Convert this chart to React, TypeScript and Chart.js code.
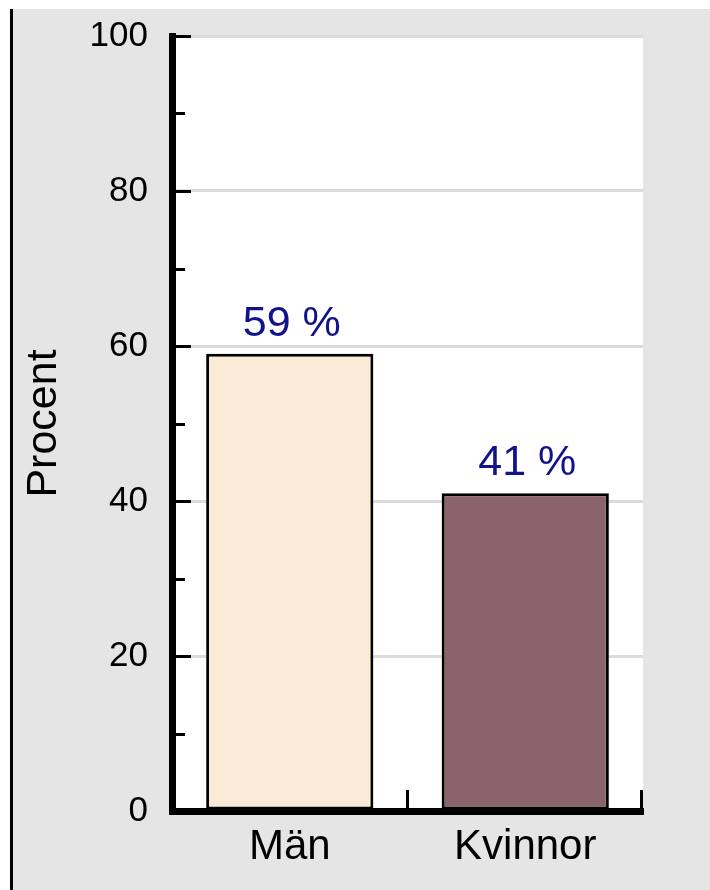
import React, { useEffect, useRef } from "react";
import { Chart, registerables } from "chart.js";

Chart.register(...registerables);

const categories: string[] = ["Män", "Kvinnor"];
const values: number[] = [59, 41];
const barColors: string[] = ["#faebd7", "#8b636b"];
const valueLabels: string[] = ["59 %", "41 %"];
const yTickValues: number[] = [0, 10, 20, 30, 40, 50, 60, 70, 80, 90, 100];
const yAxisTitle = "Procent";

const FONT = "'Liberation Sans', Arial, sans-serif";

const plotBgPlugin = {
  id: "plotBg",
  beforeDraw(chart: any) {
    const { ctx, chartArea } = chart;
    ctx.save();
    ctx.fillStyle = "#ffffff";
    ctx.fillRect(chartArea.left, chartArea.top, chartArea.right - chartArea.left, chartArea.bottom - chartArea.top);
    ctx.restore();
  },
};

const valueLabelPlugin = {
  id: "valueLabels",
  afterDatasetsDraw(chart: any) {
    const { ctx } = chart;
    const meta = chart.getDatasetMeta(0);
    ctx.save();
    ctx.font = `43px ${FONT}`;
    ctx.fillStyle = "#12128a";
    ctx.textAlign = "center";
    ctx.textBaseline = "alphabetic";
    meta.data.forEach((bar: any, i: number) => {
      ctx.fillText(valueLabels[i], bar.x + 2, bar.y - 18);
    });
    ctx.restore();
  },
};

const inwardTicksPlugin = {
  id: "inwardTicks",
  afterDraw(chart: any) {
    const { ctx, chartArea, scales } = chart;
    const y = scales.y;
    const x = scales.x;
    ctx.save();
    ctx.strokeStyle = "#000000";
    ctx.lineWidth = 3;
    ctx.lineCap = "butt";
    yTickValues.forEach((v) => {
      const py = Math.round(y.getPixelForValue(v)) + 0.5;
      const len = v % 20 === 0 ? 19 : 13;
      ctx.beginPath();
      ctx.moveTo(chartArea.left, py);
      ctx.lineTo(chartArea.left + len, py);
      ctx.stroke();
    });
    categories.forEach((_, i) => {
      let px = x.getPixelForValue(i + 0.5);
      px = Math.min(px, chartArea.right - 1.5);
      ctx.beginPath();
      ctx.moveTo(px, chartArea.bottom);
      ctx.lineTo(px, chartArea.bottom - 21);
      ctx.stroke();
    });
    ctx.restore();
  },
};

function BarChart() {
  const ref = useRef<HTMLCanvasElement | null>(null);
  useEffect(() => {
    if (!ref.current) return;
    const chart = new Chart(ref.current, {
      type: "bar",
      data: {
        labels: categories,
        datasets: [
          {
            data: values,
            backgroundColor: barColors,
            borderColor: "#000000",
            borderWidth: 3,
            borderSkipped: false,
            categoryPercentage: 1,
            barPercentage: 0.71,
          },
        ],
      },
      options: {
        responsive: false,
        devicePixelRatio: 1,
        animation: false,
        layout: { padding: { left: 0, right: 67, top: 36, bottom: 0 } },
        plugins: {
          legend: { display: false },
          tooltip: { enabled: false },
        },
        scales: {
          x: {
            z: 1,
            grid: { display: false, drawTicks: false },
            border: { display: true, color: "#000000", width: 7 },
            ticks: {
              color: "#000000",
              padding: 11,
              font: { family: FONT, size: 42 },
            },
            afterFit(scale: any) {
              scale.height = 79;
              scale.paddingLeft = 0;
              scale.paddingRight = 0;
            },
          },
          y: {
            min: 0,
            max: 100,
            grid: {
              drawTicks: false,
              lineWidth: 3,
              color: (c: any) =>
                c.tick && c.tick.value % 20 === 0 && c.tick.value !== 0 ? "#dcdcdc" : "rgba(0,0,0,0)",
            },
            border: { display: true, color: "#000000", width: 7 },
            ticks: {
              stepSize: 10,
              padding: 24,
              color: "#000000",
              font: { family: FONT, size: 35 },
              callback: (v: any) => (Number(v) % 20 === 0 ? String(v) : ""),
            },
            title: {
              display: true,
              text: yAxisTitle,
              color: "#000000",
              padding: { top: 18, bottom: 0 },
              font: { family: FONT, size: 43 },
            },
            afterFit(scale: any) {
              scale.width = 172;
              scale.paddingTop = 0;
              scale.paddingBottom = 0;
            },
          },
        },
      },
      plugins: [plotBgPlugin, valueLabelPlugin, inwardTicksPlugin],
    });
    return () => chart.destroy();
  }, []);
  return <canvas ref={ref} width={710} height={890} style={{ position: "absolute", left: 0, top: 0 }} />;
}

export default function App() {
  return (
    <div style={{ position: "absolute", left: 0, top: 0, width: 710, height: 890, background: "#ffffff", overflow: "hidden" }}>
      <div
        style={{
          position: "absolute",
          left: 10,
          top: 9,
          width: 700,
          height: 881,
          background: "#e5e5e5",
          borderLeft: "3px solid #000000",
          boxSizing: "border-box",
        }}
      />
      <BarChart />
    </div>
  );
}
